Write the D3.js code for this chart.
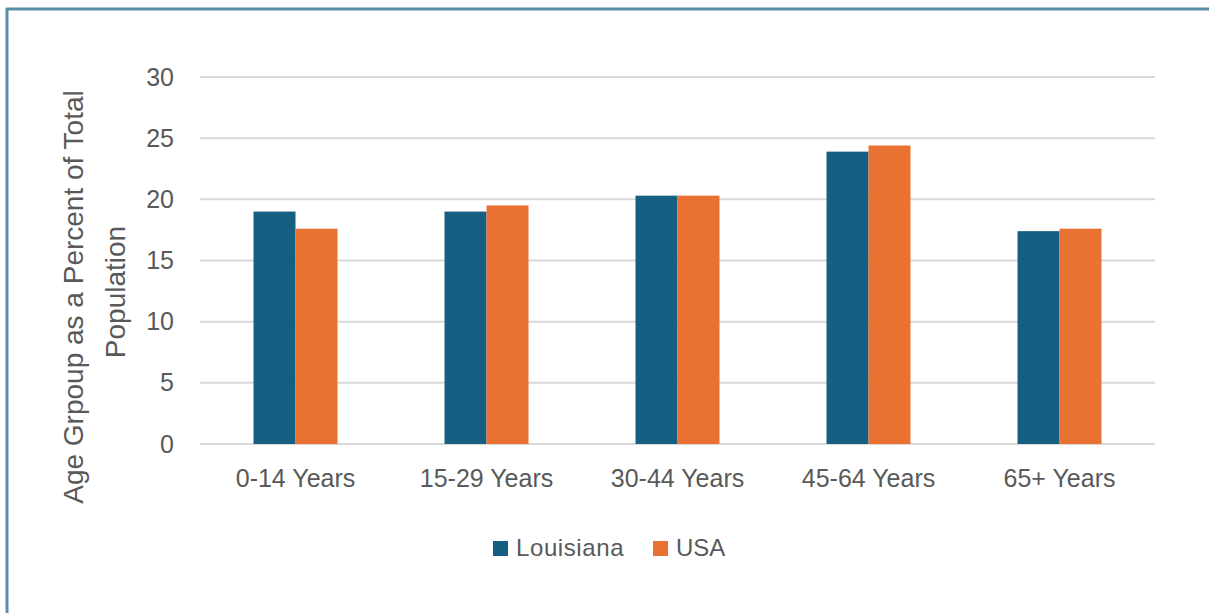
<!DOCTYPE html>
<html>
<head>
<meta charset="utf-8">
<script src="https://cdn.jsdelivr.net/npm/d3@7"></script>
<style>
  html, body { margin: 0; padding: 0; background: #fff; }
  svg { display: block; }
  text { font-family: "Liberation Sans", Arial, sans-serif; fill: #595959; }
</style>
</head>
<body>
<svg id="chart" width="1209" height="613"></svg>
<script>
// Age-group shares of total population
const categories = ["0-14 Years", "15-29 Years", "30-44 Years", "45-64 Years", "65+ Years"];
const louisiana = [19.0, 19.0, 20.3, 23.9, 17.4];
const usa = [17.6, 19.5, 20.3, 24.4, 17.6];
const seriesNames = ["Louisiana", "USA"];
const yTicks = [0, 5, 10, 15, 20, 25, 30];

const colors = { Louisiana: "#156082", USA: "#E97132" };
const FONT = "'Liberation Sans', Arial, sans-serif";

const svg = d3.select("#chart");

// Outer frame (top and left edges)
svg.append("line").attr("x1", 6).attr("x2", 1209).attr("y1", 9).attr("y2", 9)
  .attr("stroke", "#5b8ea6").attr("stroke-width", 3);
svg.append("line").attr("x1", 7).attr("x2", 7).attr("y1", 8).attr("y2", 613)
  .attr("stroke", "#5b8ea6").attr("stroke-width", 3);

const plot = { left: 200, right: 1155, top: 77, bottom: 444 };

const x0 = d3.scaleBand().domain(categories).range([plot.left, plot.right]).paddingInner(0).paddingOuter(0);
const x1 = d3.scaleBand().domain(seriesNames).range([0, 84]);
const y = d3.scaleLinear().domain([0, 30]).range([plot.bottom, plot.top]);

// Gridlines
svg.append("g").selectAll("line").data(yTicks).join("line")
  .attr("x1", plot.left).attr("x2", plot.right)
  .attr("y1", d => y(d)).attr("y2", d => y(d))
  .attr("stroke", "#d9d9d9").attr("stroke-width", 2);

// Y axis labels
const yAxis = d3.axisLeft(y).tickValues(yTicks).tickSize(0).tickPadding(0);
svg.append("g").attr("transform", "translate(174,0)").call(yAxis)
  .call(g => g.select(".domain").remove())
  .call(g => g.selectAll("text").style("font-size", "25px").attr("fill", "#595959")
    .style("font-family", FONT));

// X axis labels
const xAxis = d3.axisBottom(x0).tickSize(0).tickPadding(0);
svg.append("g").attr("transform", `translate(0,${plot.bottom + 25})`).call(xAxis)
  .call(g => g.select(".domain").remove())
  .call(g => g.selectAll("text").style("font-size", "25px").attr("fill", "#595959")
    .style("font-family", FONT));

// Bars
const rows = categories.map((c, i) => ({ cat: c, values: [
  { name: "Louisiana", value: louisiana[i] },
  { name: "USA", value: usa[i] }
]}));

svg.append("g").selectAll("g").data(rows).join("g")
  .attr("transform", d => `translate(${x0(d.cat) + x0.bandwidth() / 2 - 42},0)`)
  .selectAll("rect").data(d => d.values).join("rect")
  .attr("x", d => x1(d.name))
  .attr("width", x1.bandwidth())
  .attr("y", d => y(d.value))
  .attr("height", d => y(0) - y(d.value))
  .attr("fill", d => colors[d.name]);

// Y axis title
svg.append("text")
  .attr("transform", "translate(83,297) rotate(-90)")
  .attr("text-anchor", "middle")
  .style("font-size", "28px")
  .text("Age Grpoup as a Percent of Total");
svg.append("text")
  .attr("transform", "translate(125,292) rotate(-90)")
  .attr("text-anchor", "middle")
  .style("font-size", "28px")
  .text("Population");

// Legend
const legend = svg.append("g");
const legendItems = [{ name: "Louisiana", x: 493 }, { name: "USA", x: 653 }];
legendItems.forEach(it => {
  legend.append("rect").attr("x", it.x).attr("y", 541).attr("width", 15).attr("height", 15)
    .attr("fill", colors[it.name]);
  legend.append("text").attr("x", it.x + 23).attr("y", 556)
    .style("font-size", "24px").style("letter-spacing", it.name === "Louisiana" ? "0.6px" : "0px")
    .text(it.name);
});
</script>
</body>
</html>
